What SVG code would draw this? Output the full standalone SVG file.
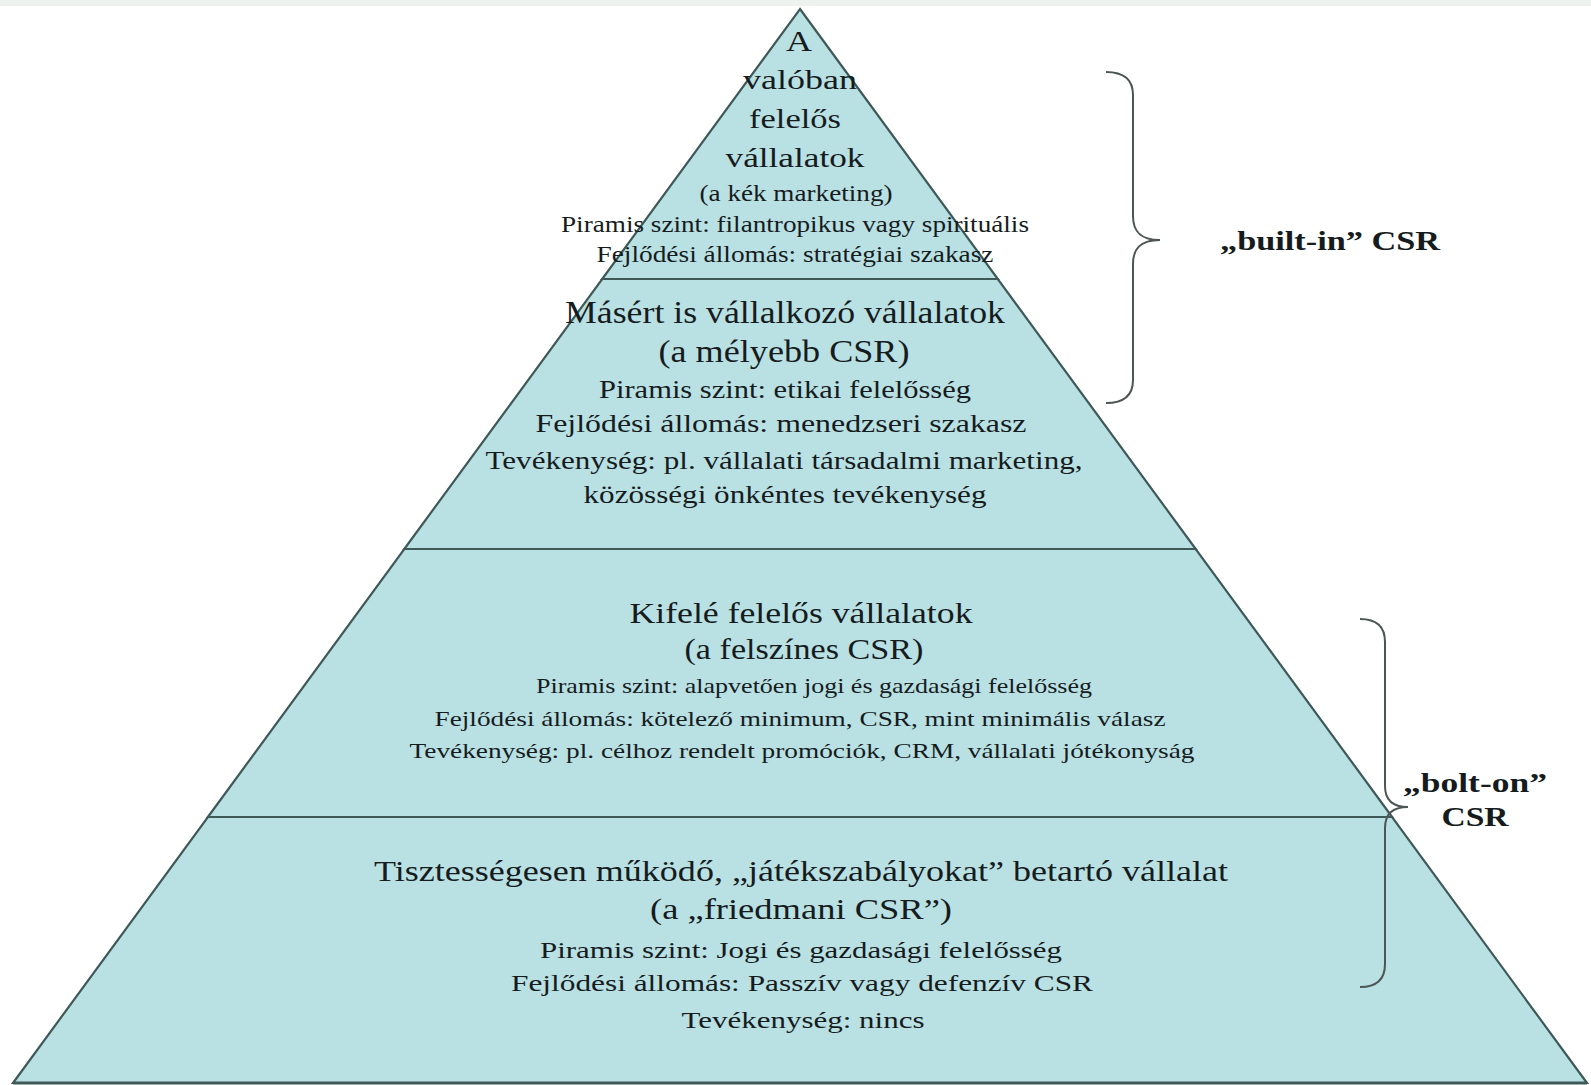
<svg xmlns="http://www.w3.org/2000/svg" width="1591" height="1085" viewBox="0 0 1591 1085">
<style>
.tier{fill:#b9e0e3;stroke:#3f5959;stroke-width:2.2;stroke-linejoin:miter}
.t{font-family:"Liberation Serif","Times New Roman",serif;fill:#161c1e;text-anchor:middle}
.b{font-family:"Liberation Serif","Times New Roman",serif;fill:#161c1e;font-weight:bold;text-anchor:middle}
.brace{fill:none;stroke:#4d5555;stroke-width:2}
</style>
<rect x="0" y="0" width="1591" height="1085" fill="#ffffff"/>
<rect x="0" y="0" width="1591" height="6" fill="#edf2ef"/>

<g id="tier1">
<polygon class="tier" points="800,9 997.8,279 602.2,279"/>
<text class="t" x="799" y="51" font-size="29" textLength="26" lengthAdjust="spacingAndGlyphs">A</text>
<text class="t" x="800" y="89" font-size="28" textLength="114" lengthAdjust="spacingAndGlyphs">valóban</text>
<text class="t" x="795" y="128" font-size="28" textLength="92" lengthAdjust="spacingAndGlyphs">felelős</text>
<text class="t" x="795" y="167" font-size="28" textLength="139" lengthAdjust="spacingAndGlyphs">vállalatok</text>
<text class="t" x="796" y="201" font-size="24" textLength="193" lengthAdjust="spacingAndGlyphs">(a kék marketing)</text>
<text class="t" x="795" y="232" font-size="24" textLength="468" lengthAdjust="spacingAndGlyphs">Piramis szint: filantropikus  vagy spirituális</text>
<text class="t" x="795" y="262" font-size="24" textLength="397" lengthAdjust="spacingAndGlyphs">Fejlődési állomás: stratégiai szakasz</text>
</g>

<g id="tier2">
<polygon class="tier" points="602.2,279 997.8,279 1195.7,549 404.3,549"/>
<text class="t" x="785" y="323" font-size="31" textLength="440" lengthAdjust="spacingAndGlyphs">Másért is vállalkozó vállalatok</text>
<text class="t" x="784" y="362" font-size="31" textLength="251" lengthAdjust="spacingAndGlyphs">(a mélyebb CSR)</text>
<text class="t" x="785" y="398" font-size="25" textLength="372" lengthAdjust="spacingAndGlyphs">Piramis szint: etikai felelősség</text>
<text class="t" x="781" y="432" font-size="25" textLength="491" lengthAdjust="spacingAndGlyphs">Fejlődési állomás: menedzseri szakasz</text>
<text class="t" x="784" y="469" font-size="25" textLength="597" lengthAdjust="spacingAndGlyphs">Tevékenység: pl. vállalati társadalmi marketing,</text>
<text class="t" x="785" y="503" font-size="25" textLength="403" lengthAdjust="spacingAndGlyphs">közösségi önkéntes tevékenység</text>
</g>

<g id="tier3">
<polygon class="tier" points="404.3,549 1195.7,549 1392.1,817 207.9,817"/>
<text class="t" x="801" y="623" font-size="29" textLength="343" lengthAdjust="spacingAndGlyphs">Kifelé felelős vállalatok</text>
<text class="t" x="804" y="659" font-size="29" textLength="239" lengthAdjust="spacingAndGlyphs">(a felszínes CSR)</text>
<text class="t" x="814" y="693" font-size="22" textLength="556" lengthAdjust="spacingAndGlyphs">Piramis szint: alapvetően jogi és gazdasági felelősség</text>
<text class="t" x="800" y="726" font-size="22" textLength="731" lengthAdjust="spacingAndGlyphs">Fejlődési állomás: kötelező minimum, CSR, mint minimális válasz</text>
<text class="t" x="802" y="758" font-size="22" textLength="785" lengthAdjust="spacingAndGlyphs">Tevékenység: pl. célhoz rendelt promóciók, CRM, vállalati jótékonyság</text>
</g>

<g id="tier4">
<polygon class="tier" points="207.9,817 1392.1,817 1587,1083 13,1083"/>
<line x1="13" y1="1083" x2="1587" y2="1083" stroke="#3f5959" stroke-width="3"/>
<text class="t" x="801" y="881" font-size="29" textLength="854" lengthAdjust="spacingAndGlyphs">Tisztességesen működő, „játékszabályokat” betartó vállalat</text>
<text class="t" x="801" y="919" font-size="29" textLength="302" lengthAdjust="spacingAndGlyphs">(a „friedmani CSR”)</text>
<text class="t" x="801" y="958" font-size="24" textLength="522" lengthAdjust="spacingAndGlyphs">Piramis szint: Jogi és gazdasági felelősség</text>
<text class="t" x="802" y="991" font-size="24" textLength="582" lengthAdjust="spacingAndGlyphs">Fejlődési állomás: Passzív vagy defenzív CSR</text>
<text class="t" x="803" y="1028" font-size="24" textLength="243" lengthAdjust="spacingAndGlyphs">Tevékenység: nincs</text>
</g>

<g id="connectors">
<path class="brace" d="M1106,72 C1125,72 1133,80 1133,95 L1133,216 C1133,231 1140,240 1160,240 C1140,240 1133,249 1133,264 L1133,380 C1133,395 1125,403 1106,403"/>
<path class="brace" d="M1360,619 C1377,619 1385,627 1385,642 L1385,786 C1385,799 1392,807 1408,807 C1392,807 1385,815 1385,828 L1385,964 C1385,979 1377,987 1360,987"/>
</g>

<g id="label-built-in">
<text class="b" x="1330" y="250" font-size="28" textLength="220" lengthAdjust="spacingAndGlyphs">„built-in” CSR</text>
</g>
<g id="label-bolt-on">
<text class="b" x="1475" y="792" font-size="28" textLength="144" lengthAdjust="spacingAndGlyphs">„bolt-on”</text>
<text class="b" x="1475" y="826" font-size="28" textLength="67" lengthAdjust="spacingAndGlyphs">CSR</text>
</g>
</svg>
